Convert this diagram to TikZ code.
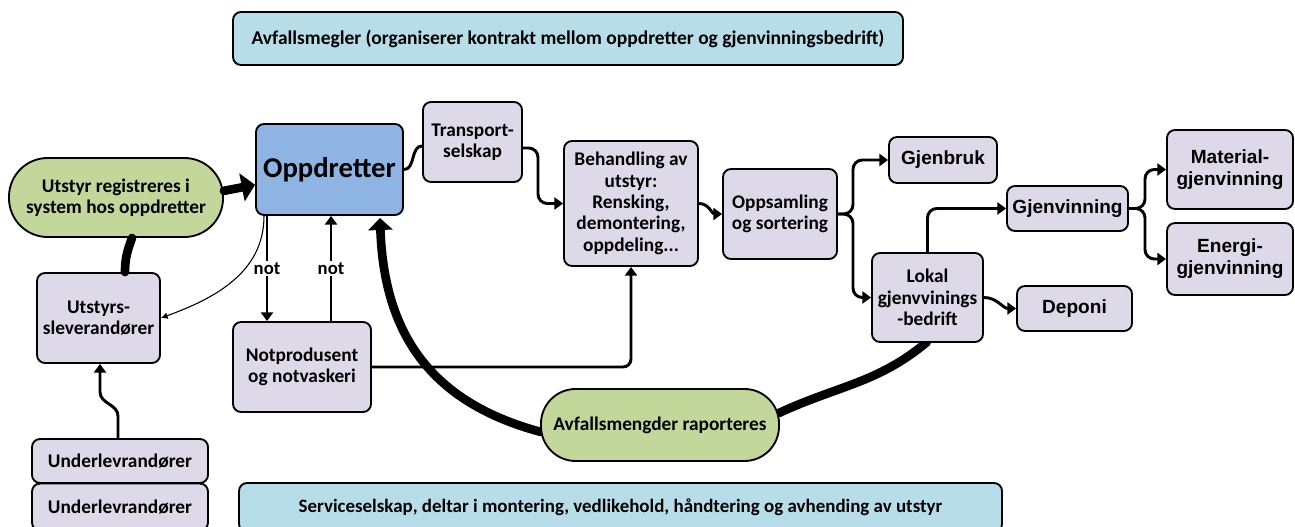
\documentclass[tikz,border=0pt]{standalone}
\usepackage{fontspec}
\setmainfont{Carlito}
\newfontfamily\arialf{Liberation Sans}
\usetikzlibrary{arrows.meta}
\definecolor{lav}{RGB}{221,217,232}
\definecolor{oppblue}{RGB}{141,180,226}
\definecolor{grn}{RGB}{196,215,155}
\definecolor{ltblue}{RGB}{183,222,232}
\begin{document}
\begin{tikzpicture}[x=0.75pt,y=-0.75pt,
  font=\fontsize{14.5}{16}\selectfont\bfseries,
  sz/.style 2 args={minimum width=#1*0.75pt, minimum height=#2*0.75pt},
  box/.style={draw=black, line width=1.4pt, rounded corners=6pt, fill=lav, align=center, inner sep=0pt},
  arialbox/.style={box, font=\fontsize{14.3}{16.5}\selectfont\arialf\bfseries},
  banner/.style={box, fill=ltblue, font=\fontsize{14.6}{16}\selectfont\bfseries},
  conn/.style={line width=2.2pt, -{Triangle[length=6.5pt,width=9pt]}},
  plain/.style={line width=2.2pt},
  thick arrow/.style={line width=6.5pt, line cap=round, -{Triangle[length=10pt,width=21pt]}},
  thick line/.style={line width=6.5pt, line cap=round},
  thin arrow/.style={line width=0.8pt, -{Latex[length=5pt,width=5pt]}},
  lbl/.style={fill=white, inner sep=1.5pt, font=\fontsize{14}{15}\selectfont\bfseries}
]
\useasboundingbox (0,0) rectangle (1295,527);
\clip (0,0) rectangle (1295,527);
% thick curves drawn first (behind nodes)
\coordinate (avW) at (541,432);
\coordinate (avE) at (779,413);
\draw[thick arrow, -{Triangle[length=9pt,width=18pt]}] (avW) to[out=165,in=-88,looseness=1.1] (380,218) coordinate (oppArr);
\draw[thick line] (avE) to[out=25,in=-140] (927,342);
% nodes
\node[banner, sz={670}{53}] (megler) at (568,38.5) {Avfallsmegler (organiserer kontrakt mellom oppdretter og gjenvinningsbedrift)};
\node[banner, sz={763}{49}, font=\fontsize{14.2}{16}\selectfont\bfseries] (service) at (620.5,507.5) {Serviceselskap, deltar i montering, vedlikehold, håndtering og avhending av utstyr};
\node[box, fill=oppblue, sz={147}{91}, font=\fontsize{21.5}{24}\selectfont\bfseries] (opp) at (329.5,169.5) {Oppdretter};
\node[box, sz={99}{80}] (trans) at (472.5,142) {Transport-\\selskap};
\node[box, sz={134}{125}] (beh) at (631,203.5) {Behandling av\\utstyr:\\Rensking,\\demontering,\\oppdeling...};
\node[box, sz={114}{90}] (opps) at (780,214) {Oppsamling\\og sortering};
\node[arialbox, sz={108}{46}] (gjenbruk) at (943,160) {Gjenbruk};
\node[arialbox, sz={121}{45}] (gjenv) at (1067.5,208.5) {Gjenvinning};
\node[arialbox, sz={126}{79}] (mat) at (1230,169.5) {Material-\\gjenvinning};
\node[arialbox, sz={126}{72}] (energi) at (1230,259) {Energi-\\gjenvinning};
\node[box, sz={111}{89}] (lokal) at (927.5,297.5) {Lokal\\gjenvvinings\\-bedrift};
\node[arialbox, sz={115}{45}] (deponi) at (1074.5,308.5) {Deponi};
\node[box, fill=grn, rounded corners=29pt, sz={214}{79}] (reg) at (116,197.5) {Utstyr registreres i\\system hos oppdretter};
\node[box, fill=grn, rounded corners=26pt, sz={238}{72}] (avfall) at (660,425) {Avfallsmengder raporteres};
\node[box, sz={123}{90}] (utslev) at (98.5,318) {Utstyrs-\\sleverandører};
\node[box, sz={138}{90}] (notp) at (302,367) {Notprodusent\\og notvaskeri};
\node[box, sz={176}{44}] (under1) at (120,461) {Underlevrandører};
\node[box, sz={176}{47}] (under2) at (120,507) {Underlevrandører};
% connectors
\draw[thick arrow] ([yshift=5pt]reg.east) -- ([yshift=-11.5pt]opp.west);
\draw[thick line] (utslev.north -| 125,0) to[out=90,in=-110] ([xshift=12pt]reg.south);
\draw[thin arrow] (opp.south -| 264,0) to[out=-90,in=20] (utslev.east);
\draw[conn] (opp.south -| 267,0) -- node[lbl] {not} (notp.north -| 267,0);
\draw[conn] (notp.north -| 331,0) -- node[lbl] {not} (opp.south -| 331,0);
\draw[conn, rounded corners=6pt] (notp.east) -- (beh.south |- notp.east) -- (beh.south);
\draw[plain] (opp.east) to[out=0,in=180] ([yshift=-3pt]trans.west);
\draw[conn, rounded corners=7pt] ([yshift=-4.5pt]trans.east) -| (beh.west -| 538,0) -- (beh.west);
\draw[conn] (beh.east) to[out=0,in=180] (opps.west);
\coordinate (s1) at (853,214);
\draw[conn, rounded corners=7pt] (opps.east) -| (gjenbruk.west -| s1) -- (gjenbruk.west);
\draw[conn, rounded corners=7pt] (opps.east) -| (lokal.west -| s1) -- (lokal.west);
\draw[conn, rounded corners=7pt] (lokal.north) |- (gjenv.west);
\draw[conn] (lokal.east) to[out=0,in=180] (deponi.west);
\coordinate (s2) at (1145,208.5);
\draw[conn, rounded corners=7pt] (gjenv.east) -| (mat.west -| s2) -- (mat.west);
\draw[conn, rounded corners=7pt] (gjenv.east) -| (energi.west -| s2) -- (energi.west);
\draw[conn] (under1.north -| 118,0) -- (118,416) to[out=90,in=-90] (100,392) -- (utslev.south -| 100,0);
\end{tikzpicture}
\end{document}
